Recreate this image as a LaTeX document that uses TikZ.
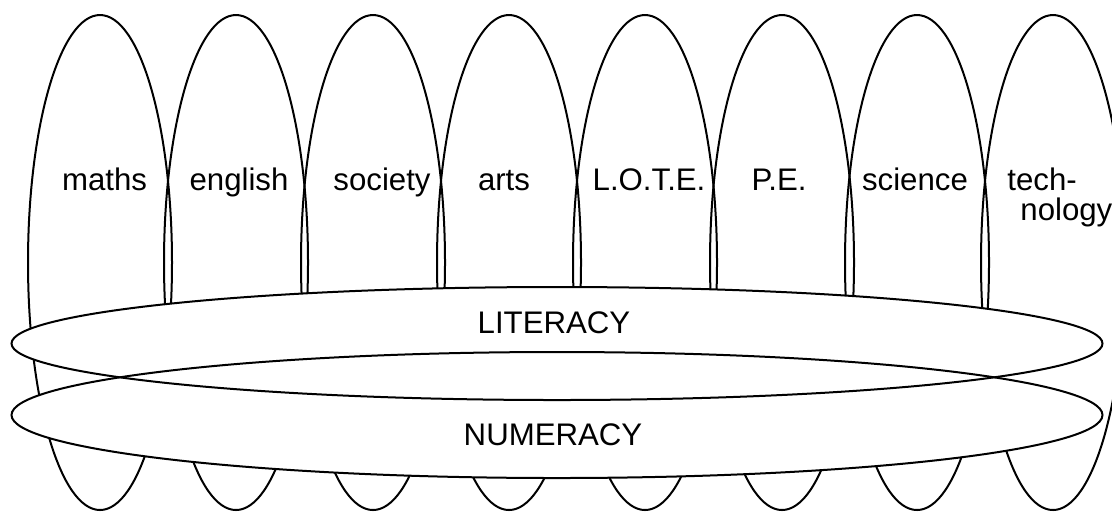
\documentclass[tikz,border=0pt]{standalone}
\usepackage{fontspec}
\setmainfont{Liberation Sans}
\usetikzlibrary{shapes.geometric}

\begin{document}
\begin{tikzpicture}[
  x=0.5pt, y=-0.5pt,
  subject/.style={ellipse,draw,line width=1pt,inner sep=0pt,
                  minimum width=72pt,minimum height=247.5pt},
  band/.style={ellipse,fill=white,inner sep=0pt,
               minimum width=545.5pt,minimum height=56.5pt},
  bandline/.style={line width=1pt},
  word/.style={font=\fontsize{15.6}{15}\selectfont,inner sep=0pt,anchor=base},
]
\useasboundingbox (0,0) rectangle (1112,511);

% the eight subjects
\node[subject] (maths)   at (100,262.5)  {};
\node[subject] (english) at (236,262.5)  {};
\node[subject] (society) at (373,262.5)  {};
\node[subject] (arts)    at (509,262.5)  {};
\node[subject] (lote)    at (645,262.5)  {};
\node[subject] (pe)      at (782,262.5)  {};
\node[subject] (science) at (917,262.5)  {};
\node[subject] (tech)    at (1053,262.5) {};

\node[word] (mathsname)   at (104.5,190) {maths};
\node[word] (englishname) at (239,190)   {english};
\node[word] (societyname) at (382,190)   {society};
\node[word] (artsname)    at (504,190)   {arts};
\node[word] (lotename)    at (649,190)   {L.O.T.E.};
\node[word] (pename)      at (779,190)   {P.E.};
\node[word] (sciencename) at (915,190)   {science};
% base of a two-line node sits on its last line
\node[word,anchor=base west,align=left] (techname) at (1007,220) {tech-\\\hspace*{6.5pt}nology};

% literacy and numeracy run across all of them
\node[band,minimum height=63pt] (num) at (557,415)   {};
\node[band]                     (lit) at (557,343.5) {};
\draw[bandline] (num.center) ellipse [x radius=545.5, y radius=63];
\draw[bandline] (lit.center) ellipse [x radius=545.5, y radius=56.5];

\node[word] (litname) at (554,333) {LITERACY};
\node[word] (numname) at (553,445) {NUMERACY};

\end{tikzpicture}
\end{document}
